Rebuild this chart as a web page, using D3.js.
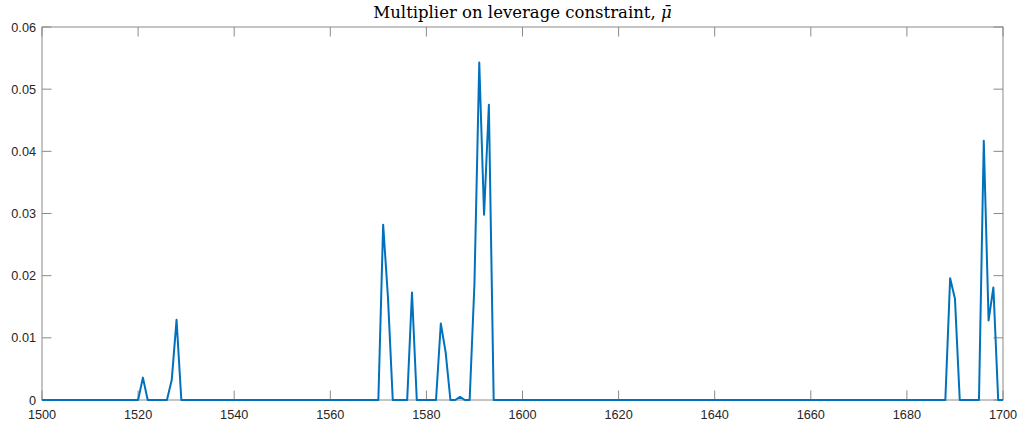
<!DOCTYPE html>
<html>
<head>
<meta charset="utf-8">
<script src="https://cdn.jsdelivr.net/npm/d3@7"></script>
<style>
  body { margin: 0; background: #fff; }
  text { font-family: "Liberation Sans", Arial, sans-serif; fill: #262626; }
  .title { font-family: "DejaVu Serif", serif; font-size: 16.5px; fill: #000; }
</style>
</head>
<body>
<svg width="1021" height="426"></svg>
<script>
// years 1500..1700, values of the multiplier (0 where not listed)
var years = d3.range(1500, 1701)
var spikeYears  = [1521, 1527, 1528, 1571, 1572, 1577, 1583, 1584, 1587, 1590, 1591, 1592, 1593, 1689, 1690, 1696, 1697, 1698]
var spikeValues = [0.0036, 0.0032, 0.0129, 0.0282, 0.0165, 0.0173, 0.0123, 0.0077, 0.0005, 0.0187, 0.0543, 0.0298, 0.0475, 0.0196, 0.0163, 0.0417, 0.0128, 0.0181]
var xTicks = d3.range(1500, 1701, 20)
var yTicks = [0, 0.01, 0.02, 0.03, 0.04, 0.05, 0.06]

var lookup = new Map(spikeYears.map((y, i) => [y, spikeValues[i]]))
var data = years.map(y => ({year: y, value: lookup.has(y) ? lookup.get(y) : 0}))

var svg = d3.select("svg"),
  margin = {top: 27, right: 18, bottom: 26, left: 42},
  width = +svg.attr("width") - margin.left - margin.right,
  height = +svg.attr("height") - margin.top - margin.bottom,
  g = svg.append("g").attr("transform", "translate(" + margin.left + "," + margin.top + ")");

var x = d3.scaleLinear().domain([1500, 1700]).range([0, width])
var y = d3.scaleLinear().domain([0, 0.06]).range([height, 0])

var tickLen = 9.5
var axisColor = "#8a8a8a"

// box
g.append("rect")
  .attr("x", 0).attr("y", 0)
  .attr("width", width).attr("height", height)
  .attr("fill", "none").attr("stroke", axisColor).attr("stroke-width", 1)

// ticks (inward, on all four sides)
xTicks.forEach(t => {
  g.append("line").attr("x1", x(t)).attr("x2", x(t)).attr("y1", height).attr("y2", height - tickLen)
    .attr("stroke", axisColor)
  g.append("line").attr("x1", x(t)).attr("x2", x(t)).attr("y1", 0).attr("y2", tickLen)
    .attr("stroke", axisColor)
  g.append("text").attr("x", x(t)).attr("y", height + 18.5)
    .attr("text-anchor", "middle").attr("font-size", "12.7px").text(t)
})
yTicks.forEach(t => {
  g.append("line").attr("x1", 0).attr("x2", tickLen).attr("y1", y(t)).attr("y2", y(t))
    .attr("stroke", axisColor)
  g.append("line").attr("x1", width).attr("x2", width - tickLen).attr("y1", y(t)).attr("y2", y(t))
    .attr("stroke", axisColor)
  g.append("text").attr("x", -6).attr("y", y(t) + 4.5)
    .attr("text-anchor", "end").attr("font-size", "12.7px").text(t === 0 ? "0" : d3.format(".2f")(t))
})

var line = d3.line()
  .x(d => x(d.year))
  .y(d => y(d.value))

g.append("path")
  .datum(data)
  .attr("fill", "none")
  .attr("stroke", "#0072BD")
  .attr("stroke-linejoin", "round")
  .attr("stroke-width", 2)
  .attr("d", line)

svg.append("text").attr("class", "title")
  .attr("x", margin.left + width / 2).attr("y", 18)
  .attr("text-anchor", "middle")
  .html('Multiplier on leverage constraint, <tspan font-style="italic">μ̄</tspan>')
</script>
</body>
</html>
